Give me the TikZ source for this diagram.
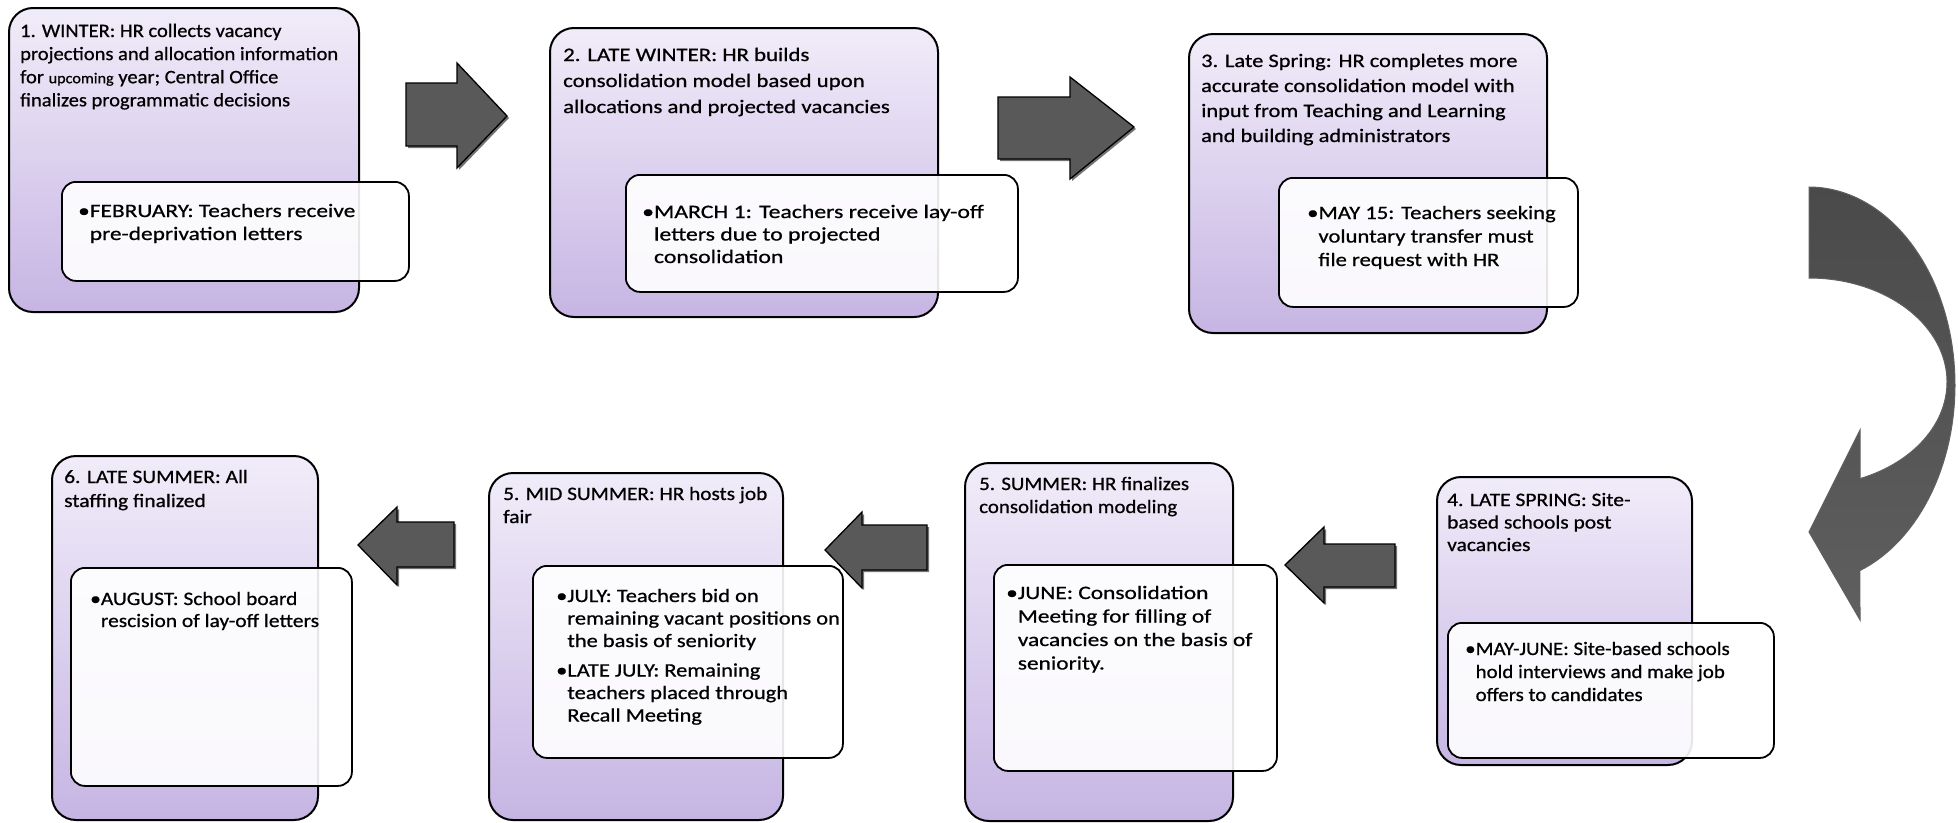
\documentclass[tikz,border=0pt]{standalone}
\usepackage{fontspec}
\setmainfont{Carlito}
\definecolor{boxtop}{RGB}{241,236,249}
\definecolor{boxbot}{RGB}{198,181,227}
\definecolor{arrowgray}{RGB}{89,89,89}
\definecolor{curvetop}{RGB}{74,74,74}
\definecolor{curvebot}{RGB}{95,95,95}
\newcommand\txt[3]{{\fontsize{19}{#2}\selectfont\addfontfeatures{FakeStretch=#1,FakeBold=0.7}\vtop{\halign{##\hfil&##\hfil\cr#3\crcr}}}}
\tikzset{
  outerbox/.style={draw=black, line width=2pt, rounded corners=24pt, top color=boxtop, bottom color=boxbot, inner sep=0pt, anchor=north west},
  innerbox/.style={draw=black, line width=1.8pt, rounded corners=14pt, fill=white, fill opacity=0.9, inner sep=0pt, anchor=north west},
  blockarrow/.style={fill=arrowgray, draw=black, line width=1.3pt, line join=miter},
  arrowshadow/.style={fill=black, fill opacity=0.55},
  label/.style={anchor=base west, inner sep=0pt, text=black}
}
\begin{document}
\begin{tikzpicture}[x=1pt,y=-1pt]
\useasboundingbox (0,0) rectangle (1958,822);

% ---------- top row ----------
\node[outerbox, minimum width=350pt, minimum height=304pt] (b1) at (8,7) {};
\node[innerbox, minimum width=347pt, minimum height=99pt] (i1) at (61,181) {};
\node[label] (t1) at (20,37) {\txt{1.08}{23.1}{1. WINTER: HR collects vacancy\cr projections and allocation information\cr for {\fontsize{15}{15}\selectfont upcoming} year; Central Office\cr finalizes programmatic decisions}};
\node[label] (u1) at (78,217) {\txt{1.23}{23}{•&FEBRUARY: Teachers receive\cr &pre-deprivation letters}};

\node[outerbox, minimum width=388pt, minimum height=289pt] (b2) at (549,27) {};
\node[innerbox, minimum width=392pt, minimum height=117pt] (i2) at (625,174) {};
\node[label] (t2) at (563,61) {\txt{1.2}{26}{2. LATE WINTER: HR builds\cr consolidation model based upon\cr allocations and projected vacancies}};
\node[label] (u2) at (642,218) {\txt{1.25}{22.5}{•&MARCH 1: Teachers receive lay-off\cr &letters due to projected\cr &consolidation}};

\node[outerbox, minimum width=358pt, minimum height=299pt] (b3) at (1188,33) {};
\node[innerbox, minimum width=299pt, minimum height=129pt] (i3) at (1278,177) {};
\node[label] (t3) at (1201,67) {\txt{1.18}{25}{3. Late Spring: HR completes more\cr accurate consolidation model with\cr input from Teaching and Learning\cr and building administrators}};
\node[label] (u3) at (1307,219) {\txt{1.19}{23.5}{•&MAY 15: Teachers seeking\cr &voluntary transfer must\cr &file request with HR}};

% ---------- bottom row ----------
\node[outerbox, minimum width=255pt, minimum height=288pt] (b4) at (1436,476) {};
\node[innerbox, minimum width=326pt, minimum height=135pt] (i4) at (1447,622) {};
\node[label] (t4) at (1447,506) {\txt{1.13}{22.5}{4. LATE SPRING: Site-\cr based schools post\cr vacancies}};
\node[label] (u4) at (1465,655) {\txt{1.1}{23}{•&MAY-JUNE: Site-based schools\cr &hold interviews and make job\cr &offers to candidates}};

\node[outerbox, minimum width=268pt, minimum height=358pt] (b5) at (964,462) {};
\node[innerbox, minimum width=283pt, minimum height=206pt] (i5) at (993,564) {};
\node[label] (t5) at (979,490) {\txt{1.1}{23}{5. SUMMER: HR finalizes\cr consolidation modeling}};
\node[label] (u5) at (1006,599) {\txt{1.23}{23.5}{•&JUNE: Consolidation\cr &Meeting for filling of\cr &vacancies on the basis of\cr &seniority.}};

\node[outerbox, minimum width=294pt, minimum height=347pt] (b6) at (488,472) {};
\node[innerbox, minimum width=310pt, minimum height=192pt] (i6) at (532,565) {};
\node[label] (t6) at (503,500) {\txt{1.12}{23}{5. MID SUMMER: HR hosts job\cr fair}};
\node[label] (u6) at (556,602) {\txt{1.18}{22.5}{•&JULY: Teachers bid on\cr &remaining vacant positions on\cr &the basis of seniority\cr\noalign{\vskip 7pt}•&LATE JULY: Remaining\cr &teachers placed through\cr &Recall Meeting}};

\node[outerbox, minimum width=266pt, minimum height=364pt] (b7) at (51,455) {};
\node[innerbox, minimum width=281pt, minimum height=218pt] (i7) at (70,567) {};
\node[label] (t7) at (64,483) {\txt{1.13}{24}{6. LATE SUMMER: All\cr staffing finalized}};
\node[label] (u7) at (90,605) {\txt{1.13}{22}{•&AUGUST: School board\cr &rescision of lay-off letters}};

% ---------- block arrows ----------
\foreach \s/\dx in {arrowshadow/2, blockarrow/0}{
  \path[\s, shift={(\dx,\dx)}] (406,83) -- (457,83) -- (457,63) -- (507,116) -- (457,168) -- (457,146) -- (406,146) -- cycle;
  \path[\s, shift={(\dx,\dx)}] (998,97) -- (1070,97) -- (1070,77) -- (1134,127) -- (1070,179) -- (1070,159) -- (998,159) -- cycle;
  \path[\s, shift={(\dx,\dx)}] (1395,544) -- (1324,544) -- (1324,527) -- (1285,565) -- (1324,603) -- (1324,587) -- (1395,587) -- cycle;
  \path[\s, shift={(\dx,\dx)}] (927,525) -- (862,525) -- (862,512) -- (825,550) -- (862,588) -- (862,570) -- (927,570) -- cycle;
  \path[\s, shift={(\dx,\dx)}] (454,522) -- (397,522) -- (397,507) -- (358,545) -- (397,585) -- (397,567) -- (454,567) -- cycle;
}

% ---------- curved arrow ----------
\path[top color=curvetop, bottom color=curvebot, draw=gray!75!black, line width=1pt]
  (1809,187) -- plot[domain=90:-69.6, samples=70] ({1809+146*cos(\x)}, {385-198*sin(\x)})
  -- (1860,620) -- (1809,532) -- (1860,430)
  -- plot[domain=-68.3:90, samples=70] ({1809+138*cos(\x)}, {382-104*sin(\x)}) -- cycle;
\end{tikzpicture}
\end{document}
